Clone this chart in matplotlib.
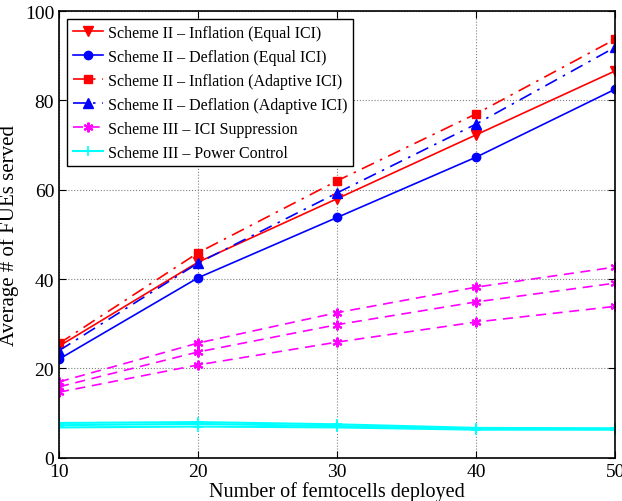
import matplotlib.pyplot as plt
import numpy as np

plt.rcParams["font.family"] = ["Liberation Serif", "DejaVu Serif"]
plt.rcParams["mathtext.fontset"] = "stix"

femtocells = [10, 20, 30, 40, 50]

inflation_equal = [25.0, 43.8, 58.0, 72.3, 86.6]
deflation_equal = [22.1, 40.3, 53.8, 67.3, 82.5]
inflation_adaptive = [25.6, 45.9, 62.0, 77.0, 93.7]
deflation_adaptive = [24.0, 43.6, 59.3, 74.7, 91.9]

ici_suppression = [
    [17.0, 25.7, 32.5, 38.2, 42.7],
    [15.9, 23.7, 29.8, 34.9, 39.1],
    [14.7, 20.8, 25.9, 30.4, 33.9],
]
power_control = [
    [7.8, 8.0, 7.5, 6.7, 6.6],
    [7.3, 7.6, 7.1, 6.5, 6.5],
    [6.8, 7.0, 6.8, 6.3, 6.3],
]

fig = plt.figure(figsize=(6.22, 5.02), dpi=100)
ax = fig.add_axes([0.095, 0.086, 0.894, 0.89])

ax.plot(femtocells, inflation_equal, "r-", lw=1.2, marker="v", ms=7,
        label="Scheme II – Inflation (Equal ICI)")
ax.plot(femtocells, deflation_equal, "b-", lw=1.2, marker="o", ms=6,
        label="Scheme II – Deflation (Equal ICI)")
ax.plot(femtocells, inflation_adaptive, "r", ls=(0, (8, 4, 1.5, 4)), lw=1.2,
        marker="s", ms=6, label="Scheme II – Inflation (Adaptive ICI)")
ax.plot(femtocells, deflation_adaptive, "b", ls=(0, (8, 4, 1.5, 4)), lw=1.2,
        marker="^", ms=7, label="Scheme II – Deflation (Adaptive ICI)")

# matlab-style asterisk markers
asterisk = (6, 2, 0)
for i, vals in enumerate(ici_suppression):
    ax.plot(femtocells, vals, color="magenta", ls="--", dashes=(6, 4), lw=1.2,
            marker=asterisk, ms=7, mew=1.5,
            label="Scheme III – ICI Suppression" if i == 0 else None)
for i, vals in enumerate(power_control):
    ax.plot(femtocells, vals, color="cyan", ls="-", lw=1.5,
            marker="+", ms=7, mew=1.2,
            label="Scheme III – Power Control" if i == 0 else None)

ax.set_xlim(10, 50)
ax.set_ylim(0, 100)
ax.set_xticks(np.arange(10, 51, 10))
ax.set_yticks(np.arange(0, 101, 20))
ax.tick_params(direction="in", top=True, right=True, labelsize=14, length=5)
ax.grid(True, ls=":", color="gray", lw=0.8)
for s in ax.spines.values():
    s.set_linewidth(1.2)

ax.set_xlabel("Number of femtocells deployed", fontsize=14.5, labelpad=1)
ax.set_ylabel("Average # of FUEs served", fontsize=15, labelpad=4)

leg = ax.legend(loc="upper left", fontsize=11.5, fancybox=False, framealpha=1,
                edgecolor="black", borderaxespad=0.5, handlelength=1.9,
                labelspacing=0.5, borderpad=0.35, handletextpad=0.3)
leg.get_frame().set_linewidth(1.0)

plt.savefig("out.png", dpi=100)
